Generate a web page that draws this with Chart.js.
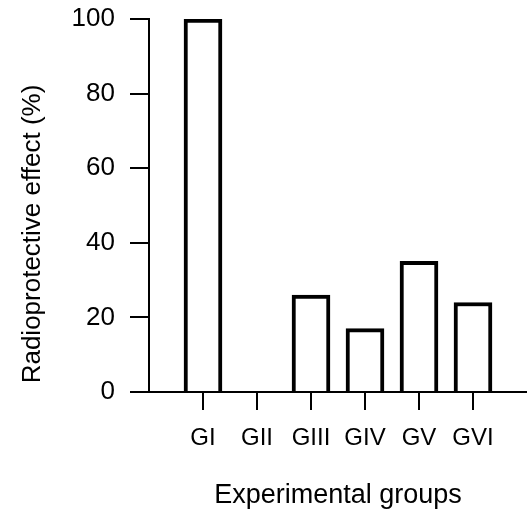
<!DOCTYPE html>
<html>
<head>
<meta charset="utf-8">
<script src="https://cdn.jsdelivr.net/npm/chart.js@4/dist/chart.umd.min.js"></script>
<style>
  html, body { margin: 0; padding: 0; background: #fff; overflow: hidden; }
  #wrap { width: 527px; height: 512px; }
  canvas { display: block; }
</style>
</head>
<body>
<div id="wrap"><canvas id="chart"></canvas></div>
<script>
// valores
const groups = ['GI', 'GII', 'GIII', 'GIV', 'GV', 'GVI'];
const effect = [100, 0, 26, 17, 35, 24];
const yTicks = [0, 20, 40, 60, 80, 100];
const yTitle = 'Radioprotective effect (%)';

// huecos vacios a cada lado para que el eje arranque y termine fuera de las barras
const labels = [''].concat(groups, ['']);
const values = [null].concat(effect, [null]);

Chart.defaults.font.family = '"Liberation Sans", Arial, sans-serif';
Chart.defaults.color = '#000';

// titulo del eje Y algo desplazado hacia abajo, como en el original
const yTitlePlugin = {
  id: 'yTitle',
  afterDraw(chart) {
    const c = chart.ctx;
    c.save();
    c.translate(33, 234);
    c.rotate(-Math.PI / 2);
    c.font = '26px "Liberation Sans", Arial, sans-serif';
    c.fillStyle = '#000';
    c.textAlign = 'center';
    c.textBaseline = 'middle';
    c.fillText(yTitle, 0, 0);
    c.restore();
  }
};

const ctx = document.getElementById('chart').getContext('2d');
new Chart(ctx, {
  type: 'bar',
  data: {
    labels: labels,
    datasets: [{
      data: values,
      backgroundColor: '#fff',
      borderColor: '#000',
      borderWidth: 4,
      barThickness: 38
    }]
  },
  plugins: [yTitlePlugin],
  options: {
    responsive: true,
    maintainAspectRatio: false,
    animation: false,
    layout: { padding: { top: 19, right: 0, left: 18, bottom: 0 } },
    plugins: { legend: { display: false }, tooltip: { enabled: false } },
    scales: {
      x: {
        offset: false,
        grid: {
          offset: false,
          drawOnChartArea: false,
          tickLength: 18,
          lineWidth: 2,
          color: c => (c.index === 0 || c.index === labels.length - 1) ? 'rgba(0,0,0,0)' : '#000'
        },
        border: { display: true, color: '#000', width: 2 },
        ticks: { font: { size: 24 }, padding: 14, maxRotation: 0, autoSkip: false },
        title: { display: true, text: 'Experimental groups', font: { size: 27 }, padding: { top: 18, bottom: 0 } },
        afterFit: s => { s.height = 120; s.paddingLeft = 0; s.paddingRight = 0; }
      },
      y: {
        min: 0,
        max: 100,
        afterBuildTicks: s => { s.ticks = yTicks.map(v => ({ value: v })); },
        grid: { drawOnChartArea: false, tickLength: 19, lineWidth: 2, color: '#000' },
        border: { display: true, color: '#000', width: 2 },
        ticks: { font: { size: 26 }, padding: 15 },
        afterFit: s => { s.width = 131; s.paddingTop = 0; s.paddingBottom = 0; }
      }
    }
  }
});
</script>
</body>
</html>
